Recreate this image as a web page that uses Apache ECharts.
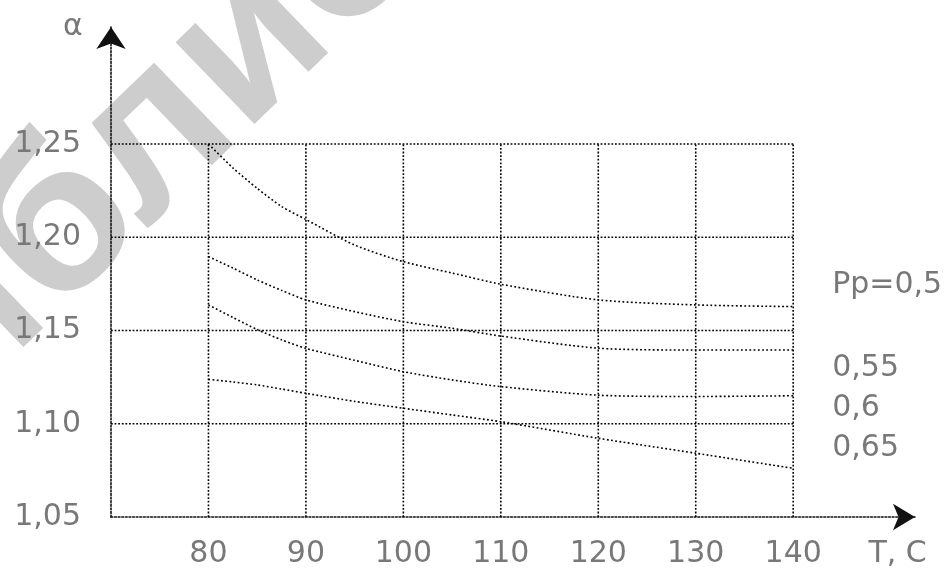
<!DOCTYPE html>
<html><head><meta charset="utf-8">
<script src="https://cdn.jsdelivr.net/npm/echarts@6/dist/echarts.min.js"></script>
<style>html,body{margin:0;padding:0;background:#fff}#c{width:946px;height:569px}</style>
</head><body><div id="c"></div>
<script>
// ---- data ----
const temps = [80, 82.5, 85, 87.5, 90, 95, 100, 105, 110, 120, 130, 140];
const seriesNames = ['Pp=0,5', '0,55', '0,6', '0,65'];
const p050 = [1.2500, 1.2372, 1.2262, 1.2165, 1.2095, 1.1958, 1.1869, 1.1808, 1.1748, 1.1664, 1.1637, 1.1628];
const p055 = [1.1896, 1.1835, 1.1771, 1.1715, 1.1664, 1.1601, 1.1547, 1.1512, 1.1470, 1.1405, 1.1395, 1.1395];
const p060 = [1.1637, 1.1570, 1.1505, 1.1450, 1.1404, 1.1340, 1.1279, 1.1235, 1.1199, 1.1153, 1.1146, 1.1150];
const p065 = [1.1238, 1.1224, 1.1208, 1.1186, 1.1163, 1.1120, 1.1083, 1.1047, 1.1011, 1.0922, 1.0842, 1.0761];
const xTicks = [80, 90, 100, 110, 120, 130, 140];
const yTicks = [1.05, 1.10, 1.15, 1.20, 1.25];
const xAxisName = 'T, C';
const yAxisName = 'α';
const watermarkText = 'библиотека';

// ---- chart ----
const FONT = '"DejaVu Sans", "Liberation Sans", sans-serif';
const LABEL_COLOR = '#787878';
const FS = 30;
const xMin = 70, xMax = 152.5, yMin = 1.05, yMax = 1.3127;
const gridLine = { color: '#000', width: 1.6, type: [1.8, 1.8] };
const axisLineStyle = { color: '#111', width: 1.6, type: [1.8, 1.8] };

const seriesData = [p050, p055, p060, p065];
const labelOffsets = [[34, -21], [34, 18], [34, 12], [34, -20]];

const series = [];
// grid lines built from the tick arrays
xTicks.forEach(v => series.push({
  type: 'line', silent: true, symbol: 'none', z: 1, animation: false,
  data: [[v, yTicks[0]], [v, yTicks[yTicks.length - 1]]], lineStyle: gridLine
}));
yTicks.slice(1).forEach(v => series.push({
  type: 'line', silent: true, symbol: 'none', z: 1, animation: false,
  data: [[xMin, v], [xTicks[xTicks.length - 1], v]], lineStyle: gridLine
}));
// curves
seriesData.forEach((arr, i) => series.push({
  type: 'line', name: seriesNames[i], symbol: 'none', smooth: 0.25,
  z: 3, animation: false,
  data: temps.map((t, k) => [t, arr[k]]),
  lineStyle: { color: '#000', width: 1.6, type: [1.8, 2.4] },
  endLabel: {
    show: true, formatter: seriesNames[i], color: LABEL_COLOR, fontSize: FS,
    fontFamily: FONT, offset: labelOffsets[i], distance: 5
  }
}));

const chart = echarts.init(document.getElementById('c'), null, { renderer: 'canvas' });
chart.setOption({
  backgroundColor: '#fff',
  animation: false,
  grid: { left: 111, right: 31, top: 27, bottom: 52, containLabel: false },
  xAxis: {
    type: 'value', min: xMin, max: xMax, interval: 10,
    splitLine: { show: false }, axisTick: { show: false },
    axisLine: { show: true, onZero: false, symbol: ['none', 'arrow'], symbolSize: [20, 22], lineStyle: axisLineStyle },
    axisLabel: {
      margin: 22, color: LABEL_COLOR, fontSize: FS, fontFamily: FONT,
      showMaxLabel: false,
      formatter: v => xTicks.indexOf(v) >= 0 ? String(v) : (v === 150 ? '{n|' + xAxisName + '}' : ''),
      rich: { n: { fontSize: FS, fontFamily: FONT, color: LABEL_COLOR, padding: [0, 0, 0, 14] } }
    }
  },
  yAxis: {
    type: 'value', min: yMin, max: yMax, interval: 0.05,
    name: yAxisName, nameLocation: 'end', nameGap: -15,
    nameTextStyle: { color: LABEL_COLOR, fontSize: FS, fontFamily: FONT, padding: [0, 76, 0, 0] },
    splitLine: { show: false }, axisTick: { show: false },
    axisLine: { show: true, onZero: false, symbol: ['none', 'arrow'], symbolSize: [22, 22], lineStyle: axisLineStyle },
    axisLabel: {
      margin: 30, color: LABEL_COLOR, fontSize: FS, fontFamily: FONT, showMaxLabel: false,
      formatter: v => {
        const t = yTicks.find(y => Math.abs(y - v) < 1e-6);
        return t === undefined ? '' : t.toFixed(2).replace('.', ',');
      }
    }
  },
  graphic: {
    elements: [{
      type: 'text', z: -10, silent: true,
      x: -178, y: 459, rotation: 44 * Math.PI / 180,
      style: { text: watermarkText, fontSize: 215, fontWeight: 'bold', fontFamily: '"Liberation Sans", Arial, sans-serif', fill: '#cdcdcd', align: 'left', verticalAlign: 'middle' }
    }]
  },
  series: series
});
</script>
</body></html>
